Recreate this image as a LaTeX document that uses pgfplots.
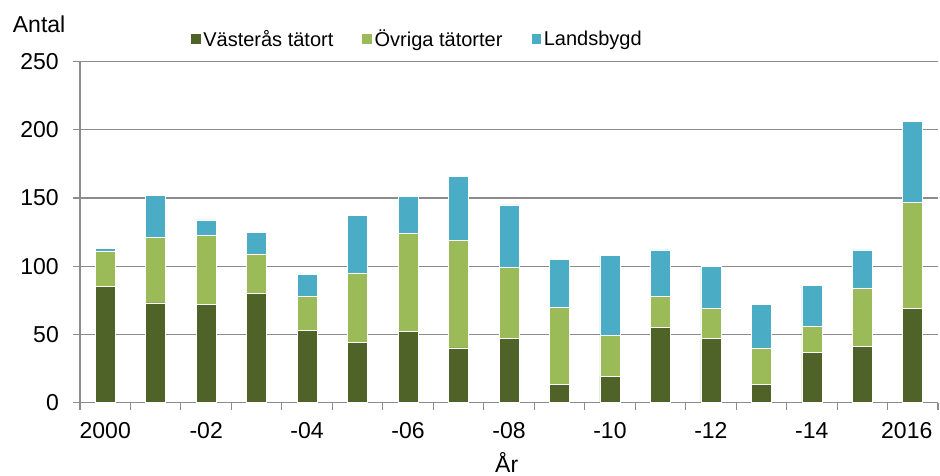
\documentclass[border=0pt]{standalone}
\usepackage{pgfplots}
\usepackage{pgfplotstable}
\pgfplotsset{compat=1.18}
\usepackage{fontspec}
\setmainfont{Liberation Sans}
\definecolor{cdark}{HTML}{4F6228}
\definecolor{clight}{HTML}{9BBB59}
\definecolor{cblue}{HTML}{4BACC6}
\definecolor{cgrid}{HTML}{8C8C8C}
\pgfplotstableread{
x V O L
0 85 26 2
1 73 48 31
2 72 51 11
3 80 29 16
4 53 25 16
5 44 51 42
6 52 72 27
7 40 79 47
8 47 52 46
9 13 57 35
10 19 30 59
11 55 23 34
12 47 22 31
13 13 27 32
14 37 19 30
15 41 43 28
16 69 78 59
}\datatable
\begin{document}
\begin{tikzpicture}
\useasboundingbox (-80pt,-72.5pt) rectangle (860pt,402.5pt);
\begin{axis}[
  at={(0,0)}, anchor=south west,
  scale only axis,
  width=858pt, height=340.8pt,
  ybar stacked, bar width=20pt,
  xmin=-0.5, xmax=16.5,
  ymin=0, ymax=250,
  ytick={0,50,...,250},
  xtick={0,2,...,16},
  xticklabels={2000,-02,-04,-06,-08,-10,-12,-14,\hspace*{-12pt}2016},
  minor xtick={-0.5,0.5,...,16.5},
  minor y tick num=0,
  axis x line*=bottom, axis y line*=left,
  axis line style={draw=cgrid, line width=1.1pt},
  tick align=outside,
  major tick length=7pt, minor tick length=7pt,
  every major x tick/.append style={draw=none},
  tick style={draw=cgrid, line width=1.1pt},
  ymajorgrids, grid style={draw=cgrid, line width=1.1pt},
  /pgf/number format/assume math mode=true,
  ticklabel style={font=\fontsize{23}{27}\selectfont},
  yticklabel style={inner sep=0pt, anchor=east, xshift=-14pt},
  xticklabel style={inner sep=0pt, anchor=north, yshift=-13pt},
  legend columns=3,
  legend image code/.code={\fill[#1] (0pt,-5.3pt) rectangle (10.7pt,5.3pt);},
  legend style={at={(rel axis cs:0.128,1.0675)}, anchor=west, draw=none, fill=none,
    inner sep=0pt, font=\fontsize{20}{24}\selectfont,
    nodes={inner xsep=2pt, inner ysep=0pt},
    /tikz/every even column/.append style={column sep=26pt}},
]
\addplot[fill=cdark, draw=white, line width=0.6pt] table[x=x,y=V]{\datatable};
\addplot[fill=clight, draw=white, line width=0.6pt] table[x=x,y=O]{\datatable};
\addplot[fill=cblue, draw=white, line width=0.6pt] table[x=x,y=L]{\datatable};
\legend{Västerås tätort, Övriga tätorter, Landsbygd}
\end{axis}
\node[anchor=base west, inner sep=0pt, font=\fontsize{23}{27}\selectfont] at (-67.3pt,370.2pt) {Antal};
\node[anchor=base, inner sep=0pt, font=\fontsize{23}{27}\selectfont] at (426.7pt,-69.5pt) {År};
\end{tikzpicture}
\end{document}
